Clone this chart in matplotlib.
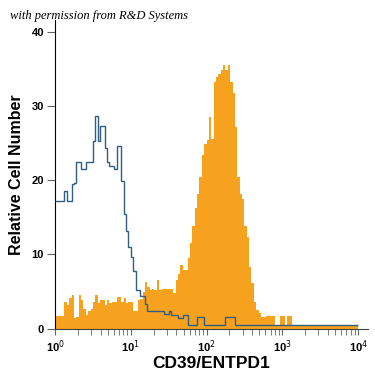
import matplotlib
matplotlib.use('Agg')
import matplotlib.pyplot as plt
import numpy as np
from matplotlib.ticker import LogLocator, FixedLocator

# 128 log channels across 4 decades (10^0 .. 10^4)
n_bins = 128
decades = 4

# stained sample (filled, orange)
cd39_counts = [
    1.7, 1.7, 1.7, 1.7, 3.6, 3.2, 4.1, 4.5, 1.4, 1.6,
    4.5, 3.8, 2.6, 1.8, 2.4, 2.6, 3.6, 4.5, 3.4, 3.9,
    3.9, 3.2, 3.9, 3.4, 3.6, 3.6, 4.3, 4.3, 3.6, 4.2,
    3.4, 3.6, 3.6, 2.4, 2.4, 3.9, 4.0, 4.9, 6.3, 5.6,
    5.2, 5.3, 5.2, 6.5, 5.2, 5.3, 5.3, 5.3, 5.3, 5.3,
    4.8, 6.5, 7.4, 8.6, 7.9, 7.9, 9.5, 11.5, 13.9, 16.2,
    18.2, 20.4, 23.4, 24.9, 25.4, 28.5, 25.6, 33.2, 33.9, 34.3,
    34.8, 35.6, 34.8, 35.6, 33.2, 31.7, 27.2, 20.4, 18.2, 17.5,
    13.9, 12.4, 8.3, 6.1, 3.6, 2.5, 2.1, 1.6, 1.6, 1.7,
    1.7, 1.7, 1.7, 0.45, 0.45, 1.7, 1.7, 0.45, 1.7, 1.7,
] + [0.45] * 28

# isotype control (outline, blue)
isotype_counts = [
    17.2, 17.2, 17.2, 17.2, 18.5, 17.2, 17.2, 19.5, 19.7, 22.4,
    22.4, 21.5, 21.5, 22.4, 22.4, 22.4, 25.3, 28.6, 25.3, 27.3,
    27.3, 24.4, 22.4, 21.9, 21.9, 21.5, 24.6, 24.6, 19.9, 15.4,
    13.2, 11.0, 9.6, 7.8, 5.2, 5.2, 4.4, 4.4, 3.3, 2.4,
    2.4, 2.4, 2.4, 2.4, 2.4, 2.4, 2.0, 2.0, 2.4, 1.8,
    1.8, 1.8, 1.4, 1.4, 1.8, 1.8, 0.45, 0.45, 0.45, 0.45,
    1.6, 1.6, 1.6, 0.45, 0.45, 0.45, 0.45, 0.45, 0.45, 0.45,
    0.45, 0.45, 1.6, 1.6, 1.6, 1.6,
] + [0.45] * 52

y_ticks = [0, 10, 20, 30, 40]
x_major = [1, 10, 100, 1000, 10000]
x_labels = ['10$^0$', '10$^1$', '10$^2$', '10$^3$', '10$^4$']

edges = 10 ** (np.arange(n_bins + 1) * decades / n_bins)

fig = plt.figure(figsize=(3.75, 3.75), dpi=100)
ax = fig.add_axes([0.1467, 0.1235, 0.8343, 0.8232])

ax.stairs(cd39_counts, edges, fill=True, color='#f7a21e', zorder=2)
ax.stairs(isotype_counts, edges, baseline=None, color='#2f5f80', lw=1.0, zorder=3)

ax.set_xscale('log')
ax.set_xlim(1, 10 ** 4.13)
ax.set_ylim(0, 41.6)

ax.xaxis.set_major_locator(FixedLocator(x_major))
ax.xaxis.set_minor_locator(LogLocator(base=10, subs=np.arange(2, 10)))
ax.set_xticklabels(x_labels)
ax.set_yticks(y_ticks)

for s in ['top', 'right']:
    ax.spines[s].set_visible(False)
ax.spines['left'].set_color('black')
ax.spines['bottom'].set_color('#444444')
ax.spines['bottom'].set_zorder(4)

ax.tick_params(axis='y', length=6, width=0.8, color='#666666', labelsize=8, pad=2)
ax.tick_params(axis='x', which='major', length=4, width=0.8, color='#666666', labelsize=8, pad=3)
ax.tick_params(axis='x', which='minor', length=4, width=0.6, color='#666666')
for lab in ax.get_yticklabels() + ax.get_xticklabels():
    lab.set_fontweight('bold')
    lab.set_family('Liberation Sans')

ax.set_ylabel('Relative Cell Number', fontsize=11.5, fontweight='bold', family='Liberation Sans', labelpad=5)
ax.set_xlabel('CD39/ENTPD1', fontsize=12.5, fontweight='bold', family='Liberation Sans', labelpad=1)

fig.text(0.027, 0.957, 'with permission from R&D Systems', style='italic',
         family='Liberation Serif', fontsize=9, va='center')

fig.savefig('out.png', dpi=100)
